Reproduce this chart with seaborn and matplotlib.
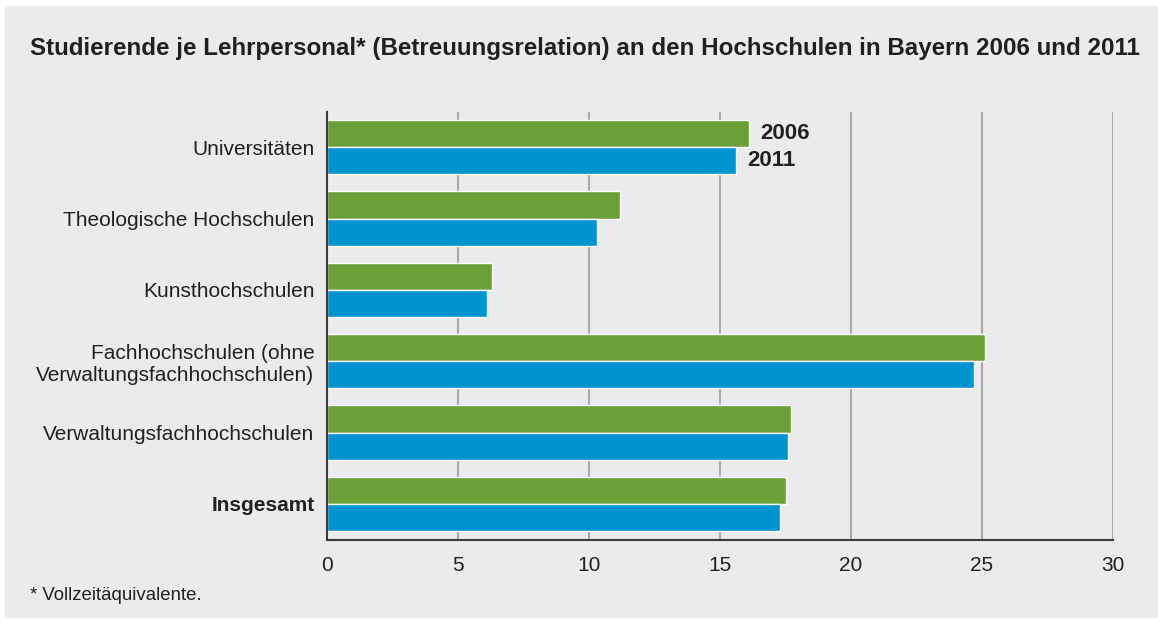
import matplotlib
matplotlib.use("Agg")
import matplotlib.pyplot as plt
from matplotlib.patches import Rectangle
import seaborn as sns
import pandas as pd

categories = [
    "Universitäten",
    "Theologische Hochschulen",
    "Kunsthochschulen",
    "Fachhochschulen (ohne\nVerwaltungsfachhochschulen)",
    "Verwaltungsfachhochschulen",
    "Insgesamt",
]
years = ["2006", "2011"]
values_2006 = [16.1, 11.2, 6.3, 25.1, 17.7, 17.5]
values_2011 = [15.6, 10.3, 6.1, 24.7, 17.6, 17.3]
x_ticks = [0, 5, 10, 15, 20, 25, 30]

title = "Studierende je Lehrpersonal* (Betreuungsrelation) an den Hochschulen in Bayern 2006 und 2011"
footnote = "* Vollzeitäquivalente."

BG = "#EBEBED"
TEXT = "#231F20"
GREEN = "#6AA038"
BLUE = "#0093D0"

df = pd.DataFrame({
    "Hochschulart": categories * 2,
    "Jahr": [years[0]] * len(categories) + [years[1]] * len(categories),
    "Betreuungsrelation": values_2006 + values_2011,
})

sns.set_theme(style="white")
plt.rcParams["font.family"] = ["Liberation Sans", "DejaVu Sans"]

W, H = 1158, 619
fig = plt.figure(figsize=(W / 100, H / 100), dpi=100, facecolor="white")
fig.patches.append(Rectangle((5 / W, 1 / H), 1 - 5 / W, 1 - 7 / H,
                             transform=fig.transFigure, facecolor=BG,
                             edgecolor="none", zorder=-10))

ax = fig.add_axes([327 / W, 1 - 539.5 / H, (1113 - 327) / W, (539.5 - 111.5) / H])
ax.set_facecolor(BG)

sns.barplot(data=df, y="Hochschulart", x="Betreuungsrelation", hue="Jahr",
            order=categories, hue_order=years, palette=[GREEN, BLUE],
            saturation=1, orient="h", width=0.76, edgecolor="white",
            linewidth=1.0, legend=False, ax=ax, zorder=3)

ax.set_xlim(0, 30)
ax.set_ylim(len(categories) - 0.5, -0.5)
ax.set_xticks(x_ticks)
ax.set_xticklabels([str(t) for t in x_ticks])
ax.set_xlabel("")
ax.set_ylabel("")

# vertical grid
for t in x_ticks[1:]:
    ax.axvline(t, color="#A9A9AB", linewidth=1.5, zorder=1)

for side in ["top", "right"]:
    ax.spines[side].set_visible(False)
for side in ["left", "bottom"]:
    ax.spines[side].set_color("#3A3A3C")
    ax.spines[side].set_linewidth(1.5)
    ax.spines[side].set_zorder(4)

ax.tick_params(axis="x", direction="out", length=5, width=1.0, color="#3A3A3C",
               labelsize=15, labelcolor=TEXT, pad=7)
ax.tick_params(axis="y", length=0, labelsize=15, labelcolor=TEXT, pad=9)
for lbl in ax.get_yticklabels():
    lbl.set_horizontalalignment("right")
    if lbl.get_text() == "Insgesamt":
        lbl.set_fontweight("bold")

# year labels next to the first group
for container, yr in zip(ax.containers, years):
    labels = [yr] + [""] * (len(categories) - 1)
    ax.bar_label(container, labels=labels, padding=8, fontsize=16,
                 fontweight="bold", color=TEXT)

fig.text(30 / W, 1 - 48 / H, title, fontsize=17.4, fontweight="bold",
         color=TEXT, ha="left", va="center")
fig.text(30 / W, 1 - 596 / H, footnote, fontsize=13.4, color=TEXT,
         ha="left", va="center")

fig.savefig("out.png", dpi=100, facecolor="white")
